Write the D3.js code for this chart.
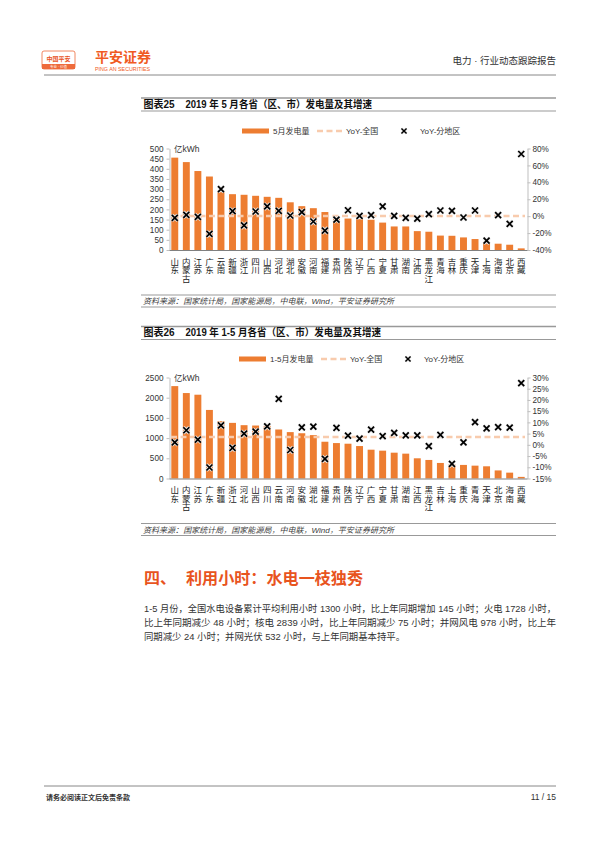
<!DOCTYPE html>
<html>
<head>
<meta charset="utf-8">
<script src="https://cdn.jsdelivr.net/npm/d3@7"></script>
<style>
	body{margin:0;background:#fff;}
	svg{display:block;font-family:"Liberation Sans","Noto Sans CJK SC",sans-serif;}
</style>
</head>
<body>
<div id="page"></div>
<script>
// 图表25: 2019年5月
const may_provinces = ["山东","内蒙古","江苏","广东","云南","新疆","浙江","四川","山西","河北","湖北","安徽","河南","福建","贵州","陕西","辽宁","广西","宁夏","甘肃","湖南","江西","黑龙江","青海","吉林","重庆","天津","上海","海南","北京","西藏"];
const may_output = [455,433,389,362,285,275,272,267,262,257,235,216,206,187,160,155,152,149,135,116,116,93,90,71,70,62,54,33,31,26,8];
const may_yoy = [-2,1.6,-0.8,-21,32,6,-11,5.5,11.5,6.3,0.8,4.7,-6.3,-17,-4,7,0.4,1.2,11.5,0.4,-2,-3,2.4,6.7,6.3,-1.6,6.7,-29,1.2,-9,73.5];
const may_yoy_national = 0.2;
const may_left_ticks = [0,50,100,150,200,250,300,350,400,450,500];
const may_right_ticks = [-40,-20,0,20,40,60,80];

// 图表26: 2019年1-5月
const ytd_provinces = ["山东","内蒙古","江苏","广东","新疆","浙江","河北","山西","四川","云南","河南","安徽","湖北","福建","贵州","陕西","辽宁","广西","宁夏","甘肃","湖南","江西","黑龙江","吉林","上海","重庆","青海","天津","北京","海南","西藏"];
const ytd_output = [2287,2115,2074,1697,1418,1377,1320,1311,1298,1213,1148,1120,1074,910,877,861,803,713,689,639,615,500,459,385,350,336,318,302,200,145,40];
const ytd_yoy = [1.1,6.5,2.3,-10.1,8.7,-1.4,5,5.9,8.2,20.5,-2.3,7.8,8.1,-6.3,7.6,4.1,2.8,6.8,3.9,5.3,4.2,4.2,-0.6,4.4,-8.5,1.1,10.1,7.3,7.9,7.7,27.5];
const ytd_yoy_national = 3.5;
const ytd_left_ticks = [0,500,1000,1500,2000,2500];
const ytd_right_ticks = [-15,-10,-5,0,5,10,15,20,25,30];

const source_text = "资料来源：国家统计局，国家能源局，中电联，Wind，平安证券研究所";
const para_lines = [
	"1-5 月份，全国水电设备累计平均利用小时 1300 小时，比上年同期增加 145 小时；火电 1728 小时，",
	"比上年同期减少 48 小时；核电 2839 小时，比上年同期减少 75 小时；并网风电 978 小时，比上年",
	"同期减少 24 小时；并网光伏 532 小时，与上年同期基本持平。"
];

const ORANGE = "#ED7D31";
const PEACH = "#F8CBAD";
const BRAND = "#E8541E";
const TEXT = "#333";

const svg = d3.select("#page")
			.append("svg")
			.attr("width",600)
			.attr("height",848);

// header
const header = svg.append("g").attr("class","header");
header.append("rect")
		.attr("x",42).attr("y",51).attr("width",33).attr("height",18).attr("rx",2)
		.attr("fill","#fff").attr("stroke","#EE6A3A").attr("stroke-width",0.8);
header.append("text")
		.attr("x",58.5).attr("y",60.5).attr("text-anchor","middle")
		.attr("font-size",6).attr("font-weight","bold").attr("fill",BRAND)
		.text("中国平安");
header.append("rect")
		.attr("x",42).attr("y",64).attr("width",33).attr("height",5)
		.attr("fill","#EE6A3A");
header.append("text")
		.attr("x",58.5).attr("y",68).attr("text-anchor","middle")
		.attr("font-size",3.5).attr("fill","#fff")
		.text("专业 · 价值");
header.append("text")
		.attr("x",95).attr("y",62).attr("font-size",13.5).attr("font-weight","bold")
		.attr("fill","#F05A22").attr("textLength",56).attr("lengthAdjust","spacingAndGlyphs")
		.text("平安证券");
header.append("text")
		.attr("x",95).attr("y",70.5).attr("font-size",4.6)
		.attr("fill","#F05A22").attr("textLength",55).attr("lengthAdjust","spacingAndGlyphs")
		.text("PING AN SECURITIES");
header.append("text")
		.attr("x",556).attr("y",64).attr("text-anchor","end").attr("font-size",9.5)
		.attr("fill",TEXT)
		.text("电力 · 行业动态跟踪报告");
header.append("line")
		.attr("x1",44).attr("x2",556).attr("y1",75).attr("y2",75)
		.attr("stroke","#888").attr("stroke-width",1);

function xMark(sel){
	sel.append("path")
		.attr("d","M-3,-3L3,3M-3,3L3,-3")
		.attr("stroke","#e8e8e8").attr("stroke-width",3.4);
	sel.append("path")
		.attr("d","M-3,-3L3,3M-3,3L3,-3")
		.attr("stroke","#000").attr("stroke-width",1.7);
}

function ComboChart(cfg){

	const g = svg.append("g").attr("class","chart");

	// title block
	g.append("line")
		.attr("x1",141).attr("x2",556).attr("y1",cfg.titleY-9).attr("y2",cfg.titleY-9)
		.attr("stroke","#999").attr("stroke-width",1.6);
	g.append("line")
		.attr("x1",141).attr("x2",556).attr("y1",cfg.titleY+4).attr("y2",cfg.titleY+4)
		.attr("stroke","#999").attr("stroke-width",1);
	g.append("text")
		.attr("x",143.5).attr("y",cfg.titleY+0.5).attr("font-size",10).attr("font-weight","bold")
		.attr("fill","#111")
		.text(cfg.tag);
	g.append("text")
		.attr("x",185.5).attr("y",cfg.titleY+0.5).attr("font-size",10).attr("font-weight","bold")
		.attr("fill","#111").attr("textLength",cfg.titleW).attr("lengthAdjust","spacingAndGlyphs")
		.text(cfg.title);

	// legend
	const lg = g.append("g").attr("transform",`translate(0,${cfg.legendY})`);
	lg.append("rect")
		.attr("x",cfg.legendX[0]).attr("y",-2.5).attr("width",27).attr("height",5)
		.attr("fill",ORANGE);
	lg.append("text")
		.attr("x",cfg.legendX[0]+31).attr("y",3).attr("font-size",8).attr("fill",TEXT)
		.text(cfg.barLabel);
	lg.append("line")
		.attr("x1",cfg.legendX[1]).attr("x2",cfg.legendX[1]+25).attr("y1",0).attr("y2",0)
		.attr("stroke",PEACH).attr("stroke-width",2.5).attr("stroke-dasharray","6,3.5");
	lg.append("text")
		.attr("x",cfg.legendX[1]+29).attr("y",3).attr("font-size",8).attr("fill",TEXT)
		.text("YoY-全国");
	lg.append("g")
		.attr("transform",`translate(${cfg.legendX[2]},0) scale(0.85)`)
		.call(xMark);
	lg.append("text")
		.attr("x",cfg.legendX[2]+16).attr("y",3).attr("font-size",8).attr("fill",TEXT)
		.text("YoY-分地区");

	// scales
	const scaleX = d3.scaleBand()
					.domain(cfg.provinces)
					.range([169,527])
					.paddingInner(0.4)
					.paddingOuter(0.2);

	const scaleY = d3.scaleLinear()
					.domain([0, d3.max(cfg.leftTicks)])
					.range([cfg.bottom, cfg.top]);

	const scaleR = d3.scaleLinear()
					.domain(d3.extent(cfg.rightTicks))
					.range([cfg.bottom, cfg.top]);

	const axisY = d3.axisLeft(scaleY)
					.tickValues(cfg.leftTicks)
					.tickFormat(d3.format("d"))
					.tickSize(3)
					.tickSizeOuter(0)
					.tickPadding(3);

	const axisR = d3.axisRight(scaleR)
					.tickValues(cfg.rightTicks)
					.tickFormat(d => d + "%")
					.tickSize(3)
					.tickSizeOuter(0)
					.tickPadding(2);

	const gy = g.append("g")
				.attr("transform","translate(169.5,0)")
				.call(axisY);
	const gr = g.append("g")
				.attr("transform","translate(527.5,0)")
				.call(axisR);
	[gy, gr].forEach(a => {
		a.select(".domain").attr("stroke","#bfbfbf");
		a.selectAll(".tick line").attr("stroke","#bfbfbf");
		a.selectAll(".tick text")
			.attr("font-size",8.2)
			.attr("fill",TEXT)
			.attr("font-family","Liberation Sans, sans-serif");
	});

	g.append("text")
		.attr("x",174).attr("y",cfg.top+3).attr("font-size",8.5).attr("fill",TEXT)
		.text("亿kWh");

	// bars
	g.append("g")
		.selectAll("rect")
		.data(cfg.output)
		.join("rect")
		.attr("x",(d,i) => scaleX(cfg.provinces[i]))
		.attr("width",scaleX.bandwidth())
		.attr("y",d => scaleY(d))
		.attr("height",d => cfg.bottom - scaleY(d))
		.attr("fill",ORANGE);

	// base line
	g.append("line")
		.attr("x1",169.5).attr("x2",527.5)
		.attr("y1",cfg.bottom+0.5).attr("y2",cfg.bottom+0.5)
		.attr("stroke","#808080").attr("stroke-width",1);

	// national yoy
	g.append("line")
		.attr("x1",scaleX.range()[0]+2)
		.attr("x2",scaleX.range()[1]-2)
		.attr("y1",scaleR(cfg.national)).attr("y2",scaleR(cfg.national))
		.attr("stroke",PEACH).attr("stroke-width",2.5).attr("stroke-dasharray","6,3.5");

	// province yoy
	g.append("g")
		.selectAll("g")
		.data(cfg.yoy)
		.join("g")
		.attr("transform",(d,i) => `translate(${scaleX(cfg.provinces[i]) + scaleX.bandwidth()/2},${scaleR(d)})`)
		.each(function(){ xMark(d3.select(this)); });

	// vertical category labels, one text per province
	g.append("g")
		.selectAll("text")
		.data(cfg.provinces)
		.join("text")
		.attr("x",d => scaleX(d) + scaleX.bandwidth()/2)
		.attr("y",cfg.bottom + 7.5)
		.style("writing-mode","vertical-rl")
		.style("text-orientation","upright")
		.attr("font-size",8.5)
		.attr("fill","#222")
		.attr("font-family","Noto Sans CJK SC, sans-serif")
		.text(d => d);

	// source
	g.append("line")
		.attr("x1",141).attr("x2",556).attr("y1",cfg.sourceY-6).attr("y2",cfg.sourceY-6)
		.attr("stroke","#999").attr("stroke-width",1);
	g.append("line")
		.attr("x1",141).attr("x2",556).attr("y1",cfg.sourceY+6).attr("y2",cfg.sourceY+6)
		.attr("stroke","#999").attr("stroke-width",1);
	g.append("text")
		.attr("x",143).attr("y",cfg.sourceY+3).attr("font-size",8)
		.attr("font-style","italic").attr("fill","#404040")
		.attr("textLength",251).attr("lengthAdjust","spacingAndGlyphs")
		.text(source_text);
}

ComboChart({
	tag:"图表25",
	title:"2019 年 5 月各省（区、市）发电量及其增速",
	titleW:186.5,
	titleY:107,
	legendY:131,
	legendX:[242,317,404],
	barLabel:"5月发电量",
	provinces:may_provinces,
	output:may_output,
	yoy:may_yoy,
	national:may_yoy_national,
	leftTicks:may_left_ticks,
	rightTicks:may_right_ticks,
	top:148.5,
	bottom:250,
	sourceY:301
});

ComboChart({
	tag:"图表26",
	title:"2019 年 1-5 月各省（区、市）发电量及其增速",
	titleW:195.5,
	titleY:335.5,
	legendY:359,
	legendX:[239,321,408],
	barLabel:"1-5月发电量",
	provinces:ytd_provinces,
	output:ytd_output,
	yoy:ytd_yoy,
	national:ytd_yoy_national,
	leftTicks:ytd_left_ticks,
	rightTicks:ytd_right_ticks,
	top:377.5,
	bottom:478.5,
	sourceY:529.5
});

// section heading
svg.append("text")
	.attr("x",144).attr("y",584).attr("font-size",16).attr("font-weight","bold")
	.attr("fill",BRAND)
	.text("四、");
svg.append("text")
	.attr("x",186).attr("y",584).attr("font-size",16).attr("font-weight","bold")
	.attr("fill",BRAND).attr("textLength",177).attr("lengthAdjust","spacingAndGlyphs")
	.text("利用小时：水电一枝独秀");

// paragraph
const paraW = [412,412,261];
svg.append("g")
	.selectAll("text")
	.data(para_lines)
	.join("text")
	.attr("x",144)
	.attr("y",(d,i) => 612 + i*13.8)
	.attr("font-size",9.6)
	.attr("fill",TEXT)
	.attr("textLength",(d,i) => paraW[i])
	.attr("lengthAdjust","spacingAndGlyphs")
	.text(d => d);

// footer
svg.append("line")
	.attr("x1",44).attr("x2",556).attr("y1",786).attr("y2",786)
	.attr("stroke","#888").attr("stroke-width",1);
svg.append("text")
	.attr("x",46).attr("y",800).attr("font-size",7).attr("font-weight","bold")
	.attr("fill",TEXT)
	.text("请务必阅读正文后免责条款");
svg.append("text")
	.attr("x",556).attr("y",800).attr("text-anchor","end").attr("font-size",8.5)
	.attr("fill",TEXT)
	.text("11 / 15");
</script>
</body>
</html>
